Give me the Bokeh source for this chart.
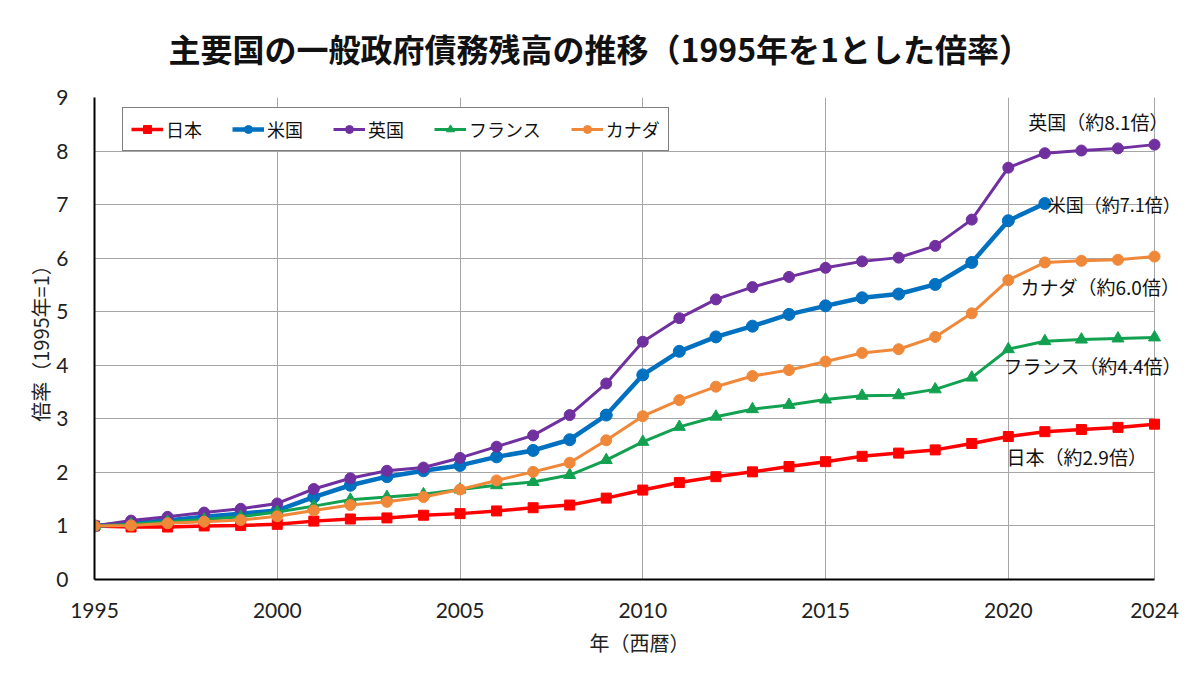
from bokeh.plotting import figure
from bokeh.models import Range1d, FixedTicker, Legend, LegendItem, Label, BoxAnnotation, Span
from bokeh.embed import file_html
from bokeh.resources import INLINE

years = [1995, 1996, 1997, 1998, 1999, 2000, 2001, 2002, 2003, 2004,
         2005, 2006, 2007, 2008, 2009, 2010, 2011, 2012, 2013, 2014,
         2015, 2016, 2017, 2018, 2019, 2020, 2021, 2022, 2023, 2024]

japan = [1.00, 0.98, 0.98, 1.00, 1.01, 1.03, 1.09, 1.13, 1.15, 1.20,
         1.23, 1.28, 1.34, 1.39, 1.52, 1.67, 1.81, 1.92, 2.01, 2.11,
         2.20, 2.30, 2.36, 2.42, 2.54, 2.67, 2.76, 2.80, 2.84, 2.90]
usa = [1.00, 1.05, 1.10, 1.17, 1.23, 1.29, 1.54, 1.76, 1.92, 2.03,
       2.13, 2.29, 2.41, 2.61, 3.07, 3.82, 4.26, 4.53, 4.73, 4.95,
       5.11, 5.26, 5.33, 5.51, 5.92, 6.70, 7.02]
uk = [1.00, 1.10, 1.17, 1.25, 1.32, 1.42, 1.69, 1.89, 2.03, 2.09,
      2.27, 2.48, 2.69, 3.07, 3.66, 4.44, 4.88, 5.23, 5.46, 5.65,
      5.82, 5.94, 6.01, 6.23, 6.72, 7.69, 7.96, 8.01, 8.05, 8.12]
france = [1.00, 1.03, 1.08, 1.12, 1.17, 1.26, 1.37, 1.49, 1.54, 1.59,
          1.68, 1.76, 1.82, 1.95, 2.23, 2.57, 2.85, 3.04, 3.18, 3.26,
          3.36, 3.43, 3.44, 3.55, 3.77, 4.30, 4.45, 4.48, 4.50, 4.52]
canada = [1.00, 1.01, 1.05, 1.08, 1.11, 1.18, 1.29, 1.39, 1.45, 1.54,
          1.68, 1.85, 2.01, 2.18, 2.60, 3.05, 3.35, 3.60, 3.80, 3.91,
          4.07, 4.23, 4.30, 4.53, 4.97, 5.59, 5.92, 5.95, 5.97, 6.03]

names = ["日本", "米国", "英国", "フランス", "カナダ"]
end_labels = ["日本（約2.9倍）", "米国（約7.1倍）", "英国（約8.1倍）",
              "フランス（約4.4倍）", "カナダ（約6.0倍）"]
x_ticks = [1995, 2000, 2005, 2010, 2015, 2020, 2024]
y_ticks = [0, 1, 2, 3, 4, 5, 6, 7, 8, 9]

title = "主要国の一般政府債務残高の推移（1995年を1とした倍率）"
jp_font = "Noto Sans CJK JP"

# frame runs past 2024 so the end labels have room (they are clipped to the frame)
p = figure(width=1184, height=659, x_range=Range1d(1995, 2024.82), y_range=Range1d(0, 9),
           output_backend="svg", toolbar_location=None,
           min_border_left=94, min_border_right=0, min_border_top=97, min_border_bottom=80)
p.outline_line_color = None

p.title.text = title
p.title.text_font = jp_font
p.title.text_font_size = "32px"
p.title.text_font_style = "bold"
p.title.text_color = "#111111"
p.title.align = "left"
p.title.offset = 74
p.title.vertical_align = "top"
p.title.text_line_height = 1.0
p.title.standoff = 49

# axes / grid
p.xaxis.ticker = FixedTicker(ticks=x_ticks)
p.yaxis.ticker = FixedTicker(ticks=y_ticks)
p.xgrid.ticker = FixedTicker(ticks=x_ticks)
p.ygrid.ticker = FixedTicker(ticks=y_ticks)
p.grid.grid_line_color = "#A6A6A6"
p.grid.grid_line_width = 1
p.xaxis.bounds = (x_ticks[0], x_ticks[-1])
for ax in (p.xaxis, p.yaxis):
    ax.axis_line_color = "black"
    ax.axis_line_width = 2
    ax.major_tick_line_color = None
    ax.minor_tick_line_color = None
    ax.major_label_text_font = "Lato"
    ax.major_label_text_font_size = "21px"
    ax.major_label_text_color = "#222222"
    ax.axis_label_text_font = jp_font
    ax.axis_label_text_font_size = "20px"
    ax.axis_label_text_font_style = "normal"
    ax.axis_label_text_color = "#222222"
p.xaxis.major_label_standoff = 17
p.yaxis.major_label_standoff = 20
p.xaxis.axis_label = "年（西暦）"
p.yaxis.axis_label = "倍率（1995年=1）"
p.xaxis.axis_label_standoff = 7
p.yaxis.axis_label_standoff = -2

# blank out the grid beyond the last year, keep the edge line
p.add_layout(BoxAnnotation(left=x_ticks[-1], fill_color="white", fill_alpha=1,
                           line_color=None, level="underlay"))
p.add_layout(Span(location=x_ticks[-1], dimension="height", line_color="#A6A6A6",
                  line_width=1, level="underlay"))

series = [
    (japan, "#FF0000", "square", 3.5, 10),
    (usa, "#0070C0", "circle", 4.5, 12),
    (uk, "#7030A0", "circle", 3, 11),
    (france, "#12A150", "triangle", 3, 12),
    (canada, "#F0883A", "circle", 3, 11),
]

items = []
for (vals, color, marker, lw, ms), name in zip(series, names):
    xs = years[:len(vals)]
    ln = p.line(xs, vals, line_color=color, line_width=lw)
    sc = p.scatter(xs, vals, marker=marker, size=ms, fill_color=color, line_color=color)
    items.append(LegendItem(label=name, renderers=[ln, sc]))

legend = Legend(items=items, orientation="horizontal", location=(28, 428),
                label_text_font=jp_font, label_text_font_size="18px",
                label_text_color="#111111", glyph_width=32, glyph_height=20,
                label_standoff=3, spacing=30, padding=8, margin=0,
                border_line_color="black", border_line_width=1.5,
                background_fill_color="white", background_fill_alpha=1)
p.add_layout(legend, "center")

# end-of-line labels: (text, x, y, x_offset, y_offset, align, size)
label_pos = [
    (end_labels[0], years[len(japan) - 1], japan[-1], -148, -32, "left", "19px"),
    (end_labels[1], years[len(usa) - 1], usa[-1], 3, 0, "left", "18px"),
    (end_labels[2], years[len(uk) - 1], uk[-1], 14, 23, "right", "19px"),
    (end_labels[3], years[len(france) - 1], france[-1], -151, -28, "left", "19px"),
    (end_labels[4], years[len(canada) - 1], canada[-1], -134, -30, "left", "19px"),
]
for txt, x, y, xo, yo, al, fs in label_pos:
    p.add_layout(Label(x=x, y=y, text=txt, x_offset=xo, y_offset=yo,
                       text_align=al, text_baseline="middle",
                       text_font=jp_font, text_font_size=fs, text_color="#111111"))

open("out.html", "w").write(file_html(p, INLINE))
